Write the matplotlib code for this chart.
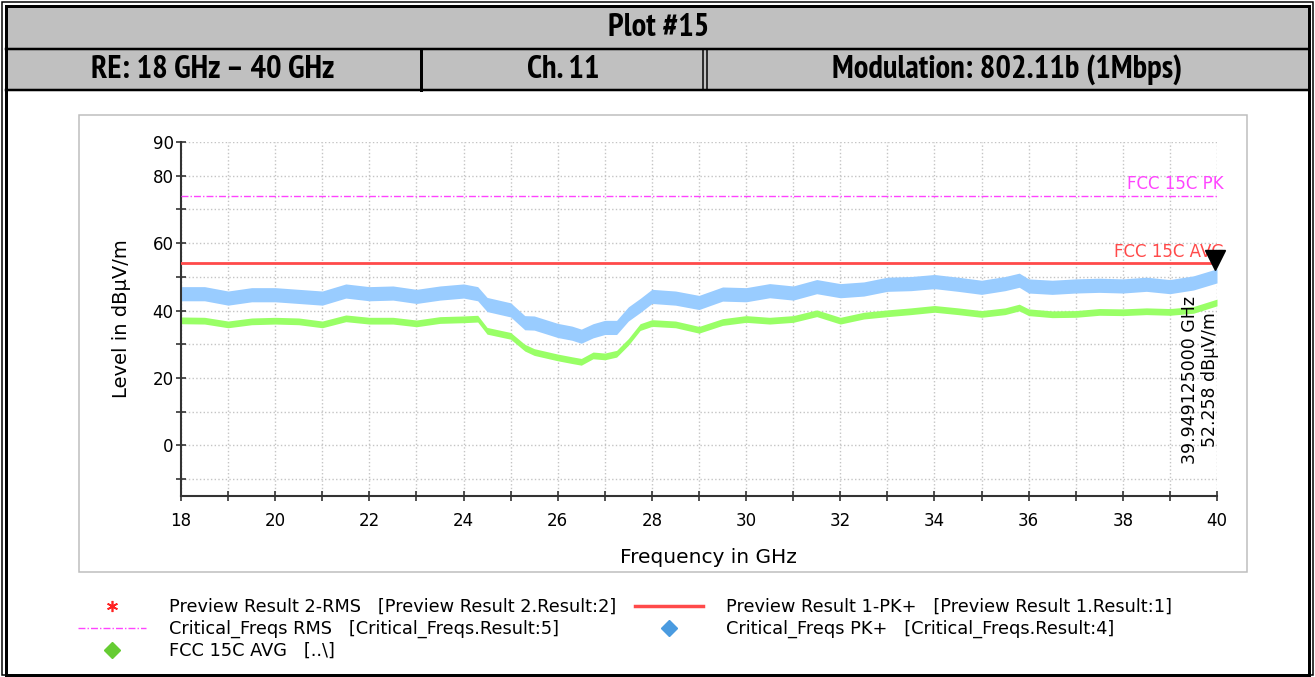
import numpy as np
import matplotlib
matplotlib.use("Agg")
import matplotlib.pyplot as plt
from matplotlib.lines import Line2D
from matplotlib.patches import Rectangle
from matplotlib.transforms import offset_copy

plt.rcParams['font.family'] = ['DejaVu Sans']

# header texts
title = "Plot #15"
header_cells = ["RE: 18 GHz \u2013 40 GHz", "Ch. 11", "Modulation: 802.11b (1Mbps)"]

# traces (centre of the noisy band), dBuV/m
freq_ghz = [18, 18.5, 19, 19.5, 20, 20.5, 21, 21.5, 22, 22.5, 23, 23.5, 24, 24.3,
            24.5, 25, 25.3, 25.5, 26, 26.3, 26.5, 26.75, 27, 27.25, 27.5, 27.75,
            28, 28.5, 29, 29.5, 30, 30.5, 31, 31.5, 32, 32.5, 33, 33.5, 34, 34.5,
            35, 35.5, 35.8, 36, 36.5, 37, 37.5, 38, 38.5, 39, 39.5, 40]
pk_level = [45.0, 45.0, 43.7, 44.7, 44.7, 44.2, 43.7, 45.8, 45.0, 45.2, 44.2, 45.2,
            45.8, 45.0, 41.8, 40.2, 36.4, 36.3, 34.1, 33.3, 32.4, 34.0, 35.0, 35.0,
            39.0, 41.5, 44.2, 43.7, 42.4, 44.9, 44.7, 45.9, 45.2, 47.1, 45.9, 46.4,
            47.8, 48.0, 48.6, 47.8, 46.9, 48.0, 49.0, 47.3, 46.9, 47.3, 47.5, 47.3,
            47.8, 47.1, 48.2, 50.3]
avg_level = [37.1, 37.0, 35.9, 36.8, 37.0, 36.8, 35.9, 37.7, 37.0, 37.0, 36.2, 37.2,
             37.4, 37.6, 34.0, 32.5, 29.0, 27.7, 26.1, 25.3, 24.8, 26.7, 26.4, 27.2,
             30.7, 35.1, 36.3, 35.9, 34.3, 36.6, 37.5, 37.0, 37.5, 39.2, 37.0, 38.5,
             39.2, 39.8, 40.5, 39.8, 39.0, 39.8, 40.9, 39.5, 38.9, 39.0, 39.6, 39.5,
             39.8, 39.6, 40.2, 42.4]
pk_spread = 2.1     # half width of the peak trace band
avg_spread = 1.0    # half width of the average trace band

limit_pk = 74.0
limit_avg = 54.0
limit_pk_name = "FCC 15C PK"
limit_avg_name = "FCC 15C AVG"

marker_freq = 39.949125
marker_level = 52.258
marker_text = "39.949125000 GHz\n52.258 dB\u00b5V/m"

x_ticks = list(range(18, 41))
x_ticklabels = [str(t) if t % 2 == 0 else "" for t in x_ticks]
y_ticks = list(range(-10, 91, 10))
y_ticklabels = ["", "0", "", "20", "", "40", "", "60", "", "80", "90"]

legend_left = ["Preview Result 2-RMS   [Preview Result 2.Result:2]",
               "Critical_Freqs RMS   [Critical_Freqs.Result:5]",
               "FCC 15C AVG   [..\\]"]
legend_right = ["Preview Result 1-PK+   [Preview Result 1.Result:1]",
                "Critical_Freqs PK+   [Critical_Freqs.Result:4]"]

W, H = 1315, 677
fig = plt.figure(figsize=(W / 100, H / 100), dpi=100)

# page layout (header table + frames) drawn in pixel coordinates
page = fig.add_axes([0, 0, 1, 1], zorder=0)
page.set_xlim(0, W)
page.set_ylim(H, 0)
page.axis('off')

px = 0.72  # one pixel in points
grey = '#c0c0c0'
page.add_patch(Rectangle((7, 7), 1301, 42, color=grey, lw=0))
page.add_patch(Rectangle((7, 50), 1301, 40, color=grey, lw=0))
page.add_patch(Rectangle((2, 2), 1311, 673, fill=False, ec='k', lw=1.5 * px))
page.add_patch(Rectangle((6, 6), 1303, 669, fill=False, ec='k', lw=3 * px))
page.plot([6, 1309], [49, 49], color='k', lw=2.5 * px)
page.plot([6, 1309], [90, 90], color='k', lw=2.5 * px)
page.plot([421, 421], [49, 90], color='k', lw=3 * px)
page.plot([703.5, 703.5], [49, 90], color='k', lw=1.5 * px)
page.plot([707.5, 707.5], [49, 90], color='k', lw=1.5 * px)
page.add_patch(Rectangle((79, 115), 1168, 457, fill=False, ec='#bdbdbd', lw=1.5 * px))

narrow = ['PT Sans Narrow', 'Arial Narrow', 'Liberation Sans Narrow', 'Archivo Narrow',
          'Roboto Condensed', 'Liberation Sans', 'DejaVu Sans']
hfont = dict(family=narrow, weight='bold', fontsize=23.5, ha='center', va='center')
page.text(659, 28.5, title, **hfont)
for cx, txt in zip([213, 563, 1007], header_cells):
    page.text(cx, 69.5, txt, **hfont)

# measurement chart
ax = fig.add_axes([181 / W, 1 - 496 / H, 1036 / W, 354 / H], zorder=1)
f = np.array(freq_ghz)
pk = np.array(pk_level)
av = np.array(avg_level)
ax.fill_between(f, pk - pk_spread, pk + pk_spread, color='#99ccff', lw=0, zorder=2)
ax.fill_between(f, av - avg_spread, av + avg_spread, color='#99ff66', lw=0, zorder=2)
ax.axhline(limit_pk, color='#ff44ff', lw=1, ls=(0, (5, 1.5, 1, 1.5)), zorder=3)
ax.axhline(limit_avg, color='#ff4a4a', lw=2, zorder=3)

ax.text(40.15, limit_pk + 0.8, limit_pk_name, color='#ff44ff', fontsize=12,
        ha='right', va='bottom')
ax.text(40.15, limit_avg + 0.8, limit_avg_name, color='#ff4a4a', fontsize=12,
        ha='right', va='bottom')

tip = offset_copy(ax.transData, fig=fig, x=0, y=7, units='points')
ax.plot([marker_freq], [marker_level], marker='v', ms=14, color='k',
        transform=tip, clip_on=False, zorder=6)
ax.text(40.05, 19.5, marker_text, rotation=90, fontsize=12.5, ha='right',
        va='center', multialignment='center', zorder=6)

ax.set_xlim(18, 40)
ax.set_ylim(-15, 90)
ax.set_xticks(x_ticks)
ax.set_xticklabels(x_ticklabels)
ax.set_yticks(y_ticks)
ax.set_yticklabels(y_ticklabels)
ax.grid(True, color='#c4c4c4', ls=':', lw=1)
ax.set_axisbelow(True)
for s in ['top', 'right']:
    ax.spines[s].set_visible(False)
for s in ['left', 'bottom']:
    ax.spines[s].set_color('#333333')
    ax.spines[s].set_linewidth(1.5)
ax.tick_params(direction='inout', length=6.5, width=1.2, color='#333333',
               labelsize=12)
ax.tick_params(axis='x', pad=8)
ax.tick_params(axis='y', pad=2)

ax.set_xlabel("Frequency in GHz", fontsize=14.5)
ax.set_ylabel("Level in dB\u00b5V/m", fontsize=14)
ax.xaxis.set_label_coords(0.509, -0.147)
ax.yaxis.set_label_coords(-0.048, 0.5)

# legend in two columns
h_left = [Line2D([], [], ls='none', marker=(6, 2, 0), ms=8, mew=1.2, color='#ff2222'),
          Line2D([], [], color='#ff44ff', lw=1, ls=(0, (5, 1.5, 1, 1.5))),
          Line2D([], [], ls='none', marker='D', ms=8, color='#66cc33')]
h_right = [Line2D([], [], color='#ff4a4a', lw=2.5),
           Line2D([], [], ls='none', marker='D', ms=8, color='#4a9be0')]
leg_kw = dict(loc='upper left', frameon=False, borderpad=0, borderaxespad=0,
              handlelength=3.8, handletextpad=1.3, labelspacing=0.22, fontsize=12.8)
fig.legend(handles=h_left, labels=legend_left, bbox_to_anchor=(78 / W, 1 - 598 / H), **leg_kw)
fig.legend(handles=h_right, labels=legend_right, bbox_to_anchor=(635 / W, 1 - 598 / H), **leg_kw)

fig.savefig('out.png', dpi=100)
